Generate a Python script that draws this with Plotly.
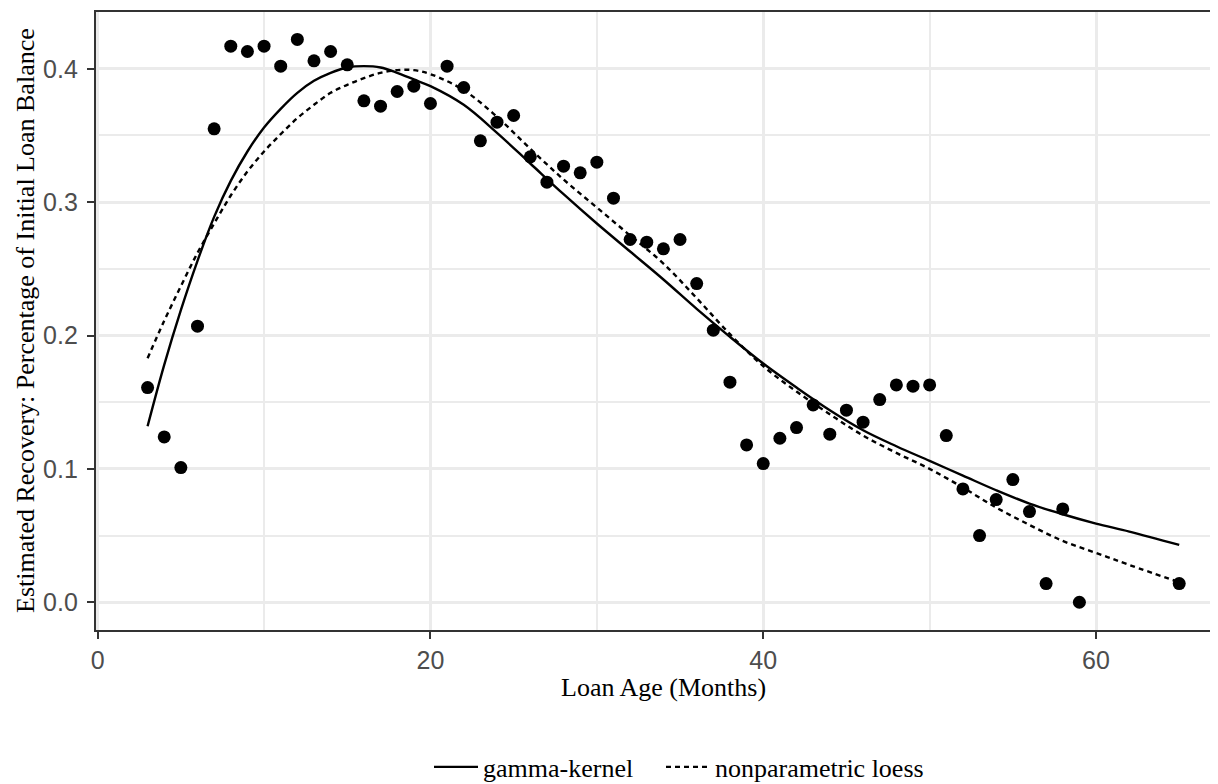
import plotly.graph_objects as go

# Observed recoveries by loan age
age_months = list(range(3, 60)) + [65]
recovery = [0.161, 0.124, 0.101, 0.207, 0.355, 0.417, 0.413, 0.417, 0.402, 0.422,
            0.406, 0.413, 0.403, 0.376, 0.372, 0.383, 0.387, 0.374, 0.402, 0.386,
            0.346, 0.360, 0.365, 0.334, 0.315, 0.327, 0.322, 0.330, 0.303, 0.272,
            0.270, 0.265, 0.272, 0.239, 0.204, 0.165, 0.118, 0.104, 0.123, 0.131,
            0.148, 0.126, 0.144, 0.135, 0.152, 0.163, 0.162, 0.163, 0.125, 0.085,
            0.050, 0.077, 0.092, 0.068, 0.014, 0.070, 0.000, 0.014]

# Fitted curves
curve_age = [3, 4, 5, 6, 7, 8, 9, 10, 11, 12, 13, 14, 15, 16, 17, 18, 19, 20,
             22, 24, 26, 28, 30, 32, 34, 36, 38, 40, 42, 44, 46, 48, 50, 52, 54,
             56, 58, 60, 62, 65]
gamma_kernel = [0.132, 0.178, 0.219, 0.256, 0.289, 0.316, 0.338, 0.356, 0.370,
                0.382, 0.391, 0.397, 0.401, 0.402, 0.401, 0.397, 0.392, 0.387,
                0.373, 0.352, 0.329, 0.306, 0.284, 0.263, 0.242, 0.220, 0.199,
                0.179, 0.161, 0.144, 0.129, 0.117, 0.106, 0.095, 0.084, 0.074,
                0.066, 0.059, 0.053, 0.043]
loess = [0.183, 0.211, 0.237, 0.262, 0.284, 0.305, 0.323, 0.338, 0.351, 0.363,
         0.373, 0.382, 0.388, 0.393, 0.397, 0.399, 0.399, 0.396, 0.384, 0.364,
         0.340, 0.317, 0.296, 0.275, 0.254, 0.228, 0.201, 0.177, 0.158, 0.141,
         0.125, 0.112, 0.100, 0.086, 0.071, 0.058, 0.046, 0.037, 0.028, 0.015]

x_ticks = [0, 20, 40, 60]
y_ticks = [0.0, 0.1, 0.2, 0.3, 0.4]

SERIF = "Liberation Serif, Times New Roman, serif"
SANS = "Liberation Sans, Arial, sans-serif"

# The page body has an 8px default margin, so the figure is 8px smaller
# and its margins are 8px tighter on the left/top.
W, H = 1210, 776
L, T, B = 88, 4, 154
PW = W - L            # plot width in px
PH = H - T - B        # plot height in px
PB = H - B            # plot bottom in figure px

def px_x(page_x):
    return (page_x - 8 - L) / PW

def px_y(page_y):
    return (PB - (page_y - 8)) / PH

fig = go.Figure()
fig.add_trace(go.Scatter(x=curve_age, y=gamma_kernel, mode="lines", name="gamma-kernel",
                         legend="legend",
                         line=dict(color="black", width=2.4, shape="spline", smoothing=1.0)))
fig.add_trace(go.Scatter(x=curve_age, y=loess, mode="lines", name="nonparametric loess",
                         legend="legend2",
                         line=dict(color="black", width=2.4, dash="5px,4px",
                                   shape="spline", smoothing=1.0)))
fig.add_trace(go.Scatter(x=age_months, y=recovery, mode="markers", showlegend=False,
                         marker=dict(color="black", size=13)))

legend_common = dict(orientation="h", xanchor="left", y=px_y(767), yanchor="middle",
                     itemwidth=44,
                     font=dict(family=SERIF, size=26, color="black"),
                     bgcolor="rgba(0,0,0,0)")

fig.update_layout(
    template="none",
    width=W, height=H,
    margin=dict(l=L, r=0, t=T, b=B, pad=0, autoexpand=False),
    paper_bgcolor="white", plot_bgcolor="white",
    showlegend=True,
    legend=dict(x=px_x(429), **legend_common),
    legend2=dict(x=px_x(661), **legend_common),
    xaxis=dict(range=[-0.1, 67.33], tickvals=x_ticks, ticktext=[str(v) for v in x_ticks],
               automargin=False,
               showgrid=True, gridcolor="#EBEBEB", gridwidth=2.6, zeroline=False,
               minor=dict(dtick=10, tick0=0, showgrid=True, gridcolor="#EBEBEB", gridwidth=1.5),
               showline=True, linecolor="#333333", linewidth=2.3, mirror=True,
               ticks="outside", ticklen=7, tickwidth=2.3, tickcolor="#333333",
               tickfont=dict(family=SANS, size=25, color="#4D4D4D")),
    yaxis=dict(range=[-0.0208, 0.4426], tickvals=y_ticks, ticktext=[f"{v:.1f}" for v in y_ticks],
               automargin=False,
               showgrid=True, gridcolor="#EBEBEB", gridwidth=2.6, zeroline=False,
               minor=dict(dtick=0.05, tick0=0, showgrid=True, gridcolor="#EBEBEB", gridwidth=1.5),
               showline=True, linecolor="#333333", linewidth=2.3,
               ticks="outside", ticklen=7, tickwidth=2.3, tickcolor="#333333",
               ticklabelstandoff=4,
               tickfont=dict(family=SANS, size=25, color="#4D4D4D")),
    annotations=[
        dict(text="Loan Age (Months)", xref="paper", yref="paper",
             x=px_x(663), y=px_y(687), xanchor="center", yanchor="middle",
             showarrow=False, font=dict(family=SERIF, size=26, color="black")),
        dict(text="Estimated Recovery: Percentage of Initial Loan Balance", xref="paper", yref="paper",
             x=px_x(25), y=0.5, xanchor="center", yanchor="middle", textangle=-90,
             showarrow=False, font=dict(family=SERIF, size=26, color="black")),
    ],
)

fig.write_html("out.html")
